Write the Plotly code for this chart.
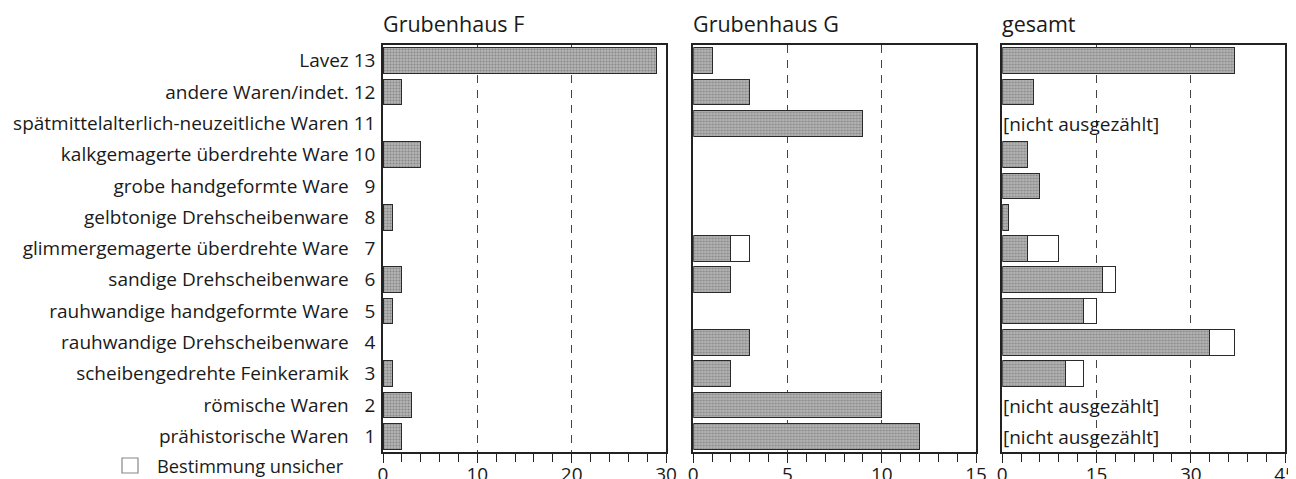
import plotly.graph_objects as go

# ---------------- data ----------------
categories = [
    "prähistorische Waren", "römische Waren", "scheibengedrehte Feinkeramik",
    "rauhwandige Drehscheibenware", "rauhwandige handgeformte Ware",
    "sandige Drehscheibenware", "glimmergemagerte überdrehte Ware",
    "gelbtonige Drehscheibenware", "grobe handgeformte Ware",
    "kalkgemagerte überdrehte Ware", "spätmittelalterlich-neuzeitliche Waren",
    "andere Waren/indet.", "Lavez",
]
numbers = list(range(1, 14))

F_sicher = [2, 3, 1, 0, 1, 2, 0, 1, 0, 4, 0, 2, 29]
F_unsicher = [0, 0, 0, 0, 0, 0, 0, 0, 0, 0, 0, 0, 0]
G_sicher = [12, 10, 2, 3, 0, 2, 2, 0, 0, 0, 9, 3, 1]
G_unsicher = [0, 0, 0, 0, 0, 0, 1, 0, 0, 0, 0, 0, 0]
gesamt_sicher = [None, None, 10, 33, 13, 16, 4, 1, 6, 4, None, 5, 37]
gesamt_unsicher = [None, None, 3, 4, 2, 2, 5, 0, 0, 0, None, 0, 0]

panel_titles = ["Grubenhaus F", "Grubenhaus G", "gesamt"]
panel_max = [30, 15, 45]
panel_major = [[0, 10, 20, 30], [0, 5, 10, 15], [0, 15, 30, 45]]
panel_minor = [2, 1, 3]
legend_text = "Bestimmung unsicher"
not_counted = "[nicht ausgezählt]"

# ---------------- figure ----------------
FONT = "Open Sans"
OFF = 8                      # page body margin offset
W, H = 1296, 479 - OFF
L = 383 - OFF
R = W - (1285 - OFF)
T = 45 - OFF
B = H - (452 - OFF)
pw = W - L - R
ph = H - T - B

def sx(px):
    """screen x pixel -> paper fraction"""
    return (px - OFF - L) / pw

def sy(py):
    """screen y pixel -> paper fraction"""
    return 1 - (py - OFF - T) / ph

domains = [
    [0, sx(666)],
    [sx(693.3), sx(976)],
    [sx(1002.3), 1.0],
]

def clean(vals):
    return [v if v else None for v in vals]

ticktext = []
for c, n in zip(categories, numbers):
    pad = "\u2007" if n < 10 else ""
    ticktext.append(f"{c} {pad}{n}")

fig = go.Figure()
series = [(F_sicher, F_unsicher), (G_sicher, G_unsicher), (gesamt_sicher, gesamt_unsicher)]
for i, (s, u) in enumerate(series):
    xa = "x" if i == 0 else f"x{i+1}"
    ya = "y" if i == 0 else f"y{i+1}"
    fig.add_trace(go.Bar(
        y=numbers, x=clean(s), orientation="h", xaxis=xa, yaxis=ya,
        width=0.82, showlegend=False, name="sicher",
        marker=dict(color="#b4b4b4", line=dict(color="#2a2a2a", width=1),
                    pattern=dict(shape=".", fgcolor="#5a5a5a", size=3, solidity=0.4)),
    ))
    fig.add_trace(go.Bar(
        y=numbers, x=clean(u), orientation="h", xaxis=xa, yaxis=ya,
        width=0.82, showlegend=False, name=legend_text,
        marker=dict(color="white", line=dict(color="#2a2a2a", width=1)),
    ))

layout = dict(
    width=W, height=H, barmode="stack",
    margin=dict(l=L, r=R, t=T, b=B, autoexpand=False),
    paper_bgcolor="white", plot_bgcolor="white",
    font=dict(family=FONT, size=19, color="#1a1a1a"),
    showlegend=False,
)
for i in range(3):
    xk = "xaxis" if i == 0 else f"xaxis{i+1}"
    yk = "yaxis" if i == 0 else f"yaxis{i+1}"
    ya = "y" if i == 0 else f"y{i+1}"
    xa = "x" if i == 0 else f"x{i+1}"
    layout[xk] = dict(
        domain=domains[i], anchor=ya, range=[0, panel_max[i]], automargin=False,
        tickvals=panel_major[i], ticks="outside", ticklen=9, tickwidth=1.3,
        tickcolor="#222", showline=True, linecolor="#222", linewidth=1.5,
        mirror=True, showgrid=True, gridcolor="#444", gridwidth=1,
        griddash="8px,7px", zeroline=False, ticklabelstandoff=-5,
        minor=dict(dtick=panel_minor[i], ticks="outside", ticklen=8,
                   tickwidth=1.3, tickcolor="#222", showgrid=False),
        tickfont=dict(size=19), fixedrange=True,
    )
    layout[yk] = dict(
        anchor=xa, range=[0.5, 13.5], showline=True, linecolor="#222",
        linewidth=1.5, mirror=True, showgrid=False, zeroline=False,
        automargin=False,
        tickvals=numbers, ticktext=ticktext if i == 0 else None,
        showticklabels=(i == 0), ticks="", ticklabelstandoff=2,
        fixedrange=True,
    )
    if i > 0:
        layout[yk]["matches"] = "y"
fig.update_layout(**layout)

# panel titles
for i, t in enumerate(panel_titles):
    xr = "x domain" if i == 0 else f"x{i+1} domain"
    fig.add_annotation(text=t, x=0, xref=xr, xanchor="left", xshift=-2,
                       y=1, yref="paper", yanchor="bottom", yshift=5,
                       showarrow=False, font=dict(size=21.5, color="#1a1a1a"))

# "[nicht ausgezählt]" markers in gesamt panel
for n, v in zip(numbers, gesamt_sicher):
    if v is None:
        fig.add_annotation(text=not_counted, x=0, xref="x3", y=n, yref="y3",
                           xanchor="left", xshift=-1, yshift=-1, showarrow=False,
                           font=dict(size=19, color="#1a1a1a"))

# legend
fig.add_shape(type="rect", xref="paper", yref="paper",
              x0=sx(122), x1=sx(138), y0=sy(458), y1=sy(473),
              line=dict(color="#888", width=1.2), fillcolor="white")
fig.add_annotation(text=legend_text, xref="paper", yref="paper",
                   x=sx(155), xanchor="left", y=sy(465), yanchor="middle",
                   showarrow=False, font=dict(size=18.3, color="#1a1a1a"))

fig.write_html("out.html")
